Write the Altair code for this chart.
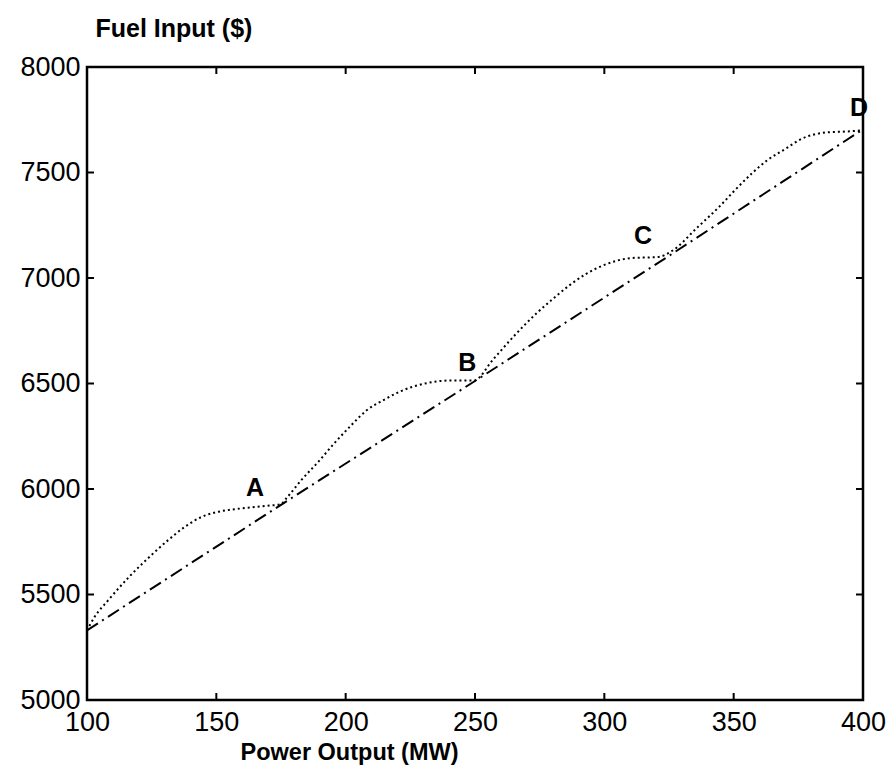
import altair as alt
import pandas as pd

# --- data ---
valve_x = [100, 103, 108, 116, 125, 131.5, 138, 144, 150, 157, 163, 169, 175, 177, 183,
           189.5, 195.5, 202, 208, 215, 221, 231.5, 240, 249.5, 257, 265, 274, 280.5, 287,
           293, 300, 310, 321, 326, 336, 345, 350, 357, 363, 370, 376, 386, 393, 400]
valve_y = [5330, 5395, 5470, 5580, 5688, 5759, 5822, 5866, 5890, 5904, 5912, 5920, 5928, 5955, 6044,
           6130, 6215, 6300, 6372, 6424, 6462, 6502, 6514, 6514, 6614, 6724, 6835, 6905, 6970,
           7020, 7062, 7094, 7100, 7127, 7240, 7345, 7410, 7495, 7558, 7612, 7658, 7690, 7694, 7700]

smooth_x = [100, 175, 250, 325, 400]
smooth_y = [5330, 5925, 6512, 7105, 7705]

label_text = ["A", "B", "C", "D"]
label_x = [165, 247, 315, 398.5]
label_y = [6006, 6598, 7199, 7807]

x_ticks = [100, 150, 200, 250, 300, 350, 400]
y_ticks = [5000, 5500, 6000, 6500, 7000, 7500, 8000]

W, H = 776, 633

valve = pd.DataFrame({"x": valve_x, "y": valve_y})
smooth = pd.DataFrame({"x": smooth_x, "y": smooth_y})
labels = pd.DataFrame({"t": label_text, "x": label_x, "y": label_y})
xt = pd.DataFrame({"x": x_ticks[1:-1]})
yt = pd.DataFrame({"y": y_ticks[1:-1]})

xscale = alt.Scale(domain=[100, 400], nice=False, zero=False)
yscale = alt.Scale(domain=[5000, 8000], nice=False, zero=False)

xaxis = alt.Axis(values=x_ticks, format="d", title="Power Output (MW)", labelFontSize=27,
                 labelFont="Liberation Sans", labelColor="black", labelPadding=9,
                 titleFont="Liberation Sans", titleFontWeight="bold", titleFontSize=23.5,
                 titleColor="black", titleX=262, titleY=52, titleBaseline="middle",
                 titleAnchor="start", titleAlign="center",
                 ticks=False, domain=False, grid=False, labelFlush=False)
yaxis = alt.Axis(values=y_ticks, format="d", title="Fuel Input ($)", labelFontSize=27,
                 labelFont="Liberation Sans", labelColor="black", labelPadding=7,
                 titleFont="Liberation Sans", titleFontWeight="bold", titleFontSize=25,
                 titleColor="black", titleAngle=0, titleX=8, titleY=-39,
                 titleAlign="left", titleBaseline="middle", titleAnchor="start",
                 ticks=False, domain=False, grid=False, labelFlush=False)

smooth_line = alt.Chart(smooth).mark_line(
    color="black", strokeWidth=2, strokeDash=[13, 5, 2, 5]
).encode(x=alt.X("x:Q", scale=xscale, axis=xaxis), y=alt.Y("y:Q", scale=yscale, axis=yaxis))

valve_line = alt.Chart(valve).mark_line(
    color="black", strokeWidth=2, strokeDash=[2, 3], interpolate="monotone"
).encode(x=alt.X("x:Q", scale=xscale), y=alt.Y("y:Q", scale=yscale))

text = alt.Chart(labels).mark_text(
    font="Liberation Sans", fontWeight="bold", fontSize=25, color="black", baseline="middle"
).encode(x=alt.X("x:Q", scale=xscale), y=alt.Y("y:Q", scale=yscale), text="t:N")

tick_len = 7
xb = alt.Chart(xt).mark_rule(color="black", strokeWidth=2).encode(
    x=alt.X("x:Q", scale=xscale), y=alt.value(H), y2=alt.value(H - tick_len))
xtp = alt.Chart(xt).mark_rule(color="black", strokeWidth=2).encode(
    x=alt.X("x:Q", scale=xscale), y=alt.value(0), y2=alt.value(tick_len))
yl = alt.Chart(yt).mark_rule(color="black", strokeWidth=2).encode(
    y=alt.Y("y:Q", scale=yscale), x=alt.value(0), x2=alt.value(tick_len))
yr = alt.Chart(yt).mark_rule(color="black", strokeWidth=2).encode(
    y=alt.Y("y:Q", scale=yscale), x=alt.value(W), x2=alt.value(W - tick_len))

chart = alt.layer(smooth_line, valve_line, text, xb, xtp, yl, yr).properties(
    width=W, height=H,
    autosize=alt.AutoSizeParams(type="none"),
    padding={"left": 87, "top": 67, "right": 28, "bottom": 72},
    background="white",
).configure_view(stroke="black", strokeWidth=2.5)

chart.save("out.html", embed_options={"renderer": "svg", "actions": False})
